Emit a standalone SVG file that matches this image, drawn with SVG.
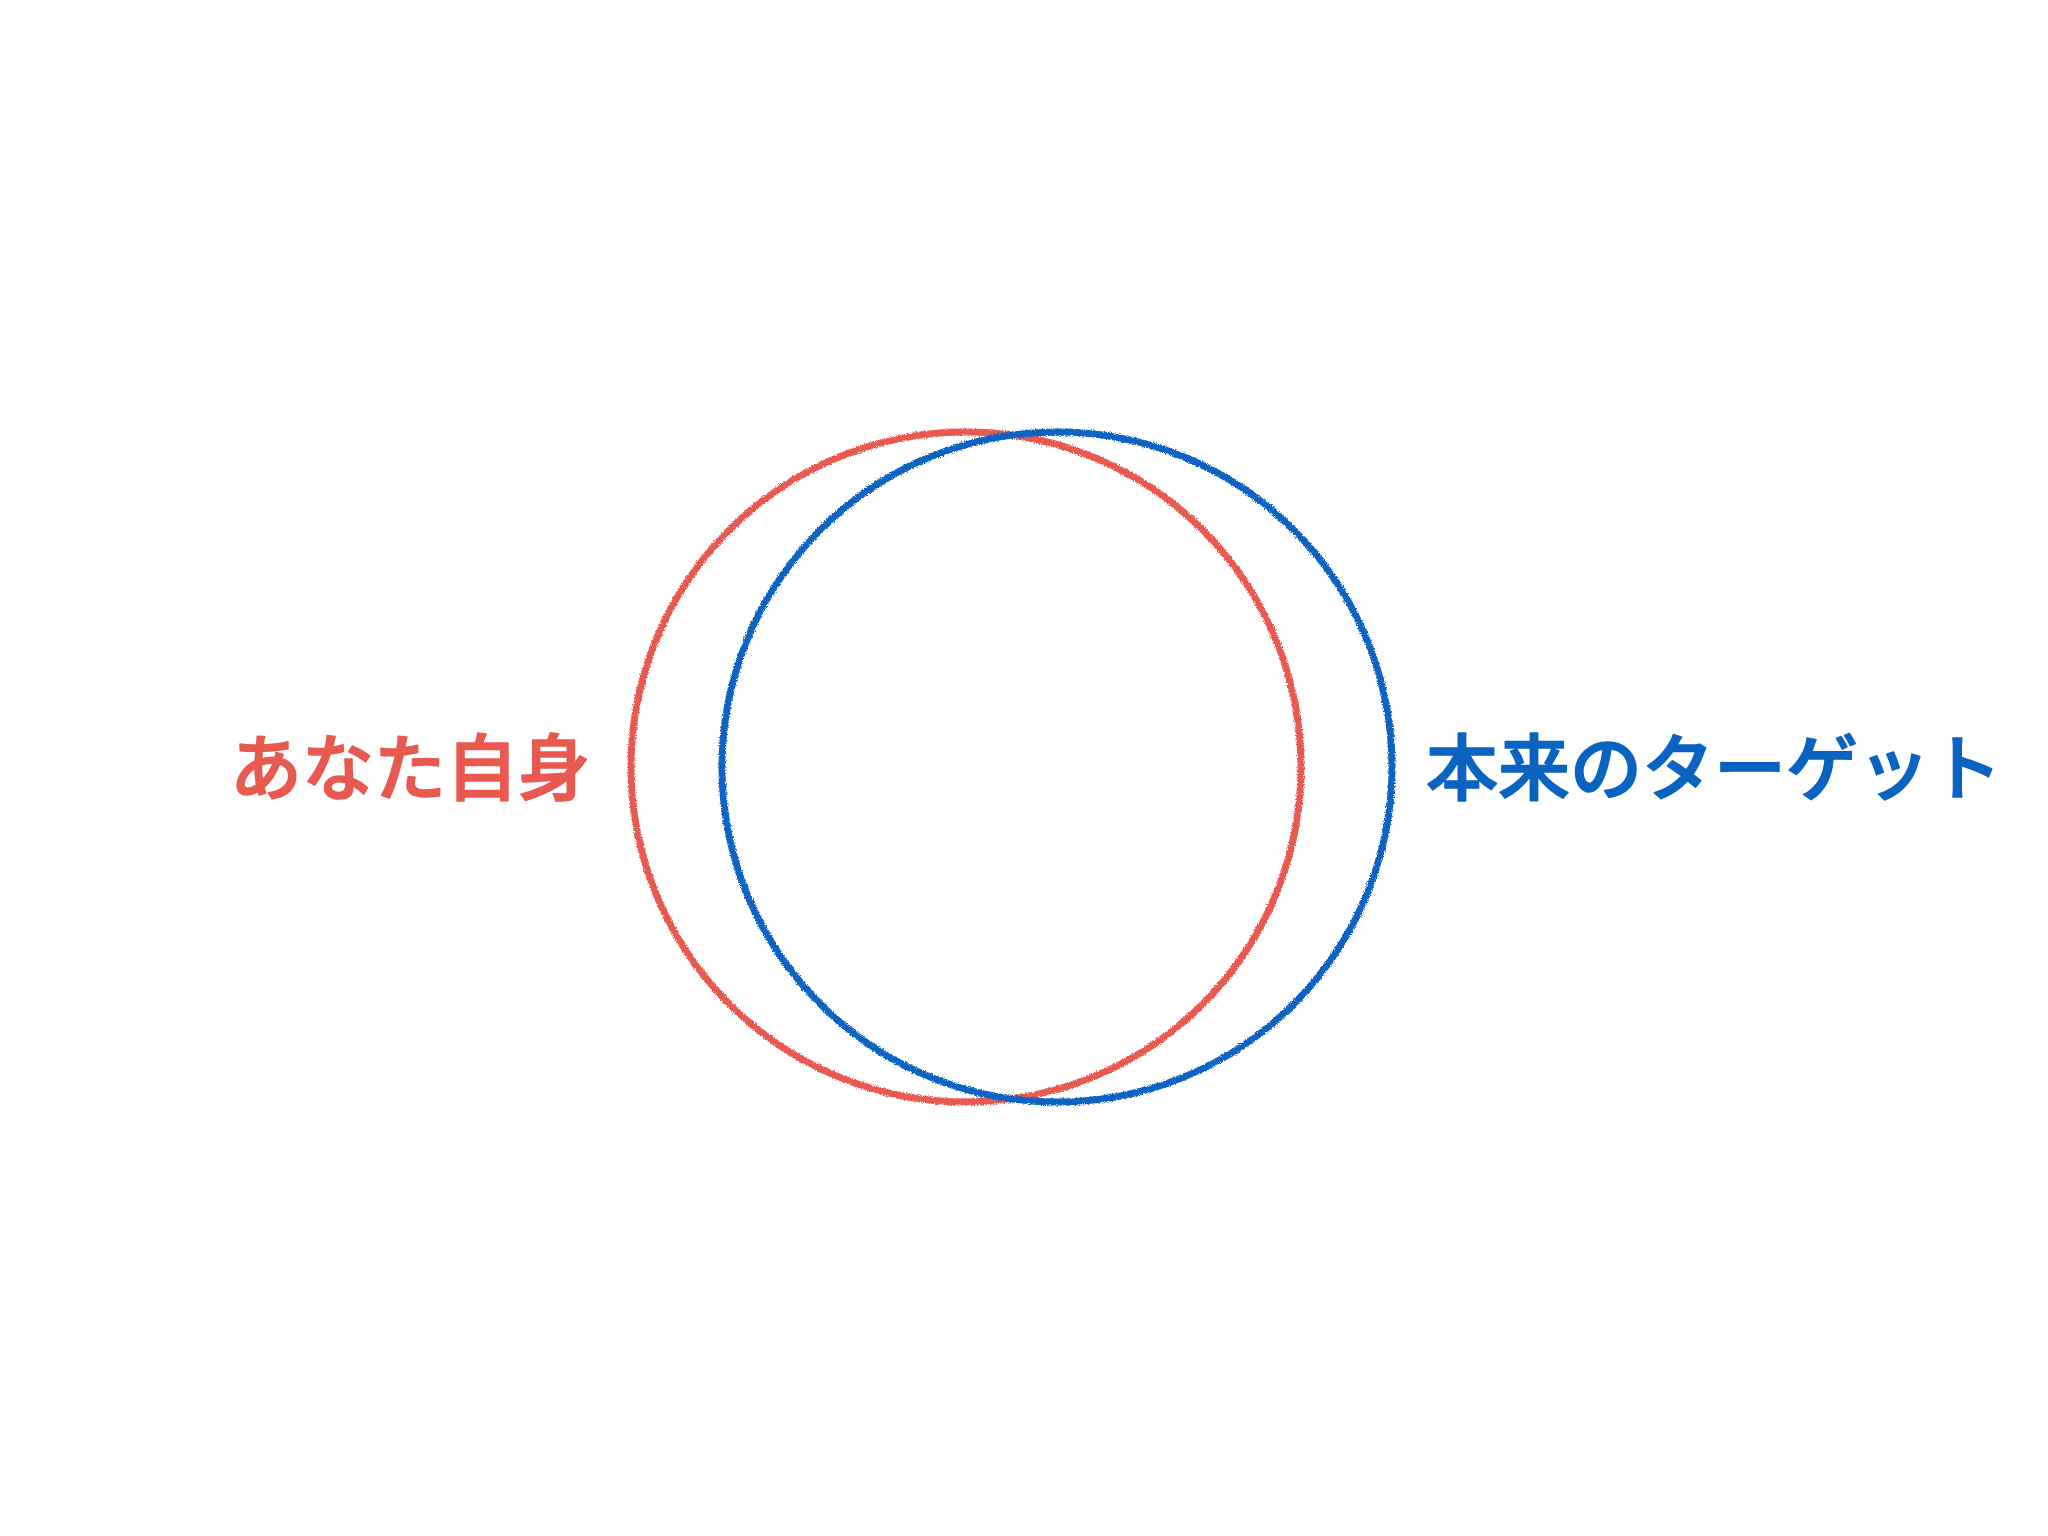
<svg xmlns="http://www.w3.org/2000/svg" width="2048" height="1536" viewBox="0 0 2048 1536">
  <style>
    .lbl { font-family: "Noto Sans CJK JP", "Noto Sans", sans-serif; font-weight: 500; font-size: 72px; stroke-width: 1.6; stroke-linejoin: round; }
    .ring { fill: none; stroke-width: 7; }
  </style>
  <defs>
    <filter id="crayon" x="-10%" y="-10%" width="120%" height="120%">
      <feTurbulence type="fractalNoise" baseFrequency="0.9" numOctaves="2" seed="3" result="n"/>
      <feDisplacementMap in="SourceGraphic" in2="n" scale="4" xChannelSelector="R" yChannelSelector="G"/>
    </filter>
  </defs>
  <rect width="2048" height="1536" fill="#ffffff"/>
  <g id="self">
    <circle class="ring" cx="966" cy="767" r="335" stroke="#E85A50" filter="url(#crayon)"/>
    <text class="lbl" x="230" y="794" fill="#E85A50" stroke="#E85A50">あなた自身</text>
  </g>
  <g id="target">
    <circle class="ring" cx="1057" cy="767" r="335" stroke="#0A63C1" filter="url(#crayon)"/>
    <text class="lbl" x="1426" y="794" fill="#0A63C1" stroke="#0A63C1">本来のターゲット</text>
  </g>
  <g id="connectors"></g>
</svg>
